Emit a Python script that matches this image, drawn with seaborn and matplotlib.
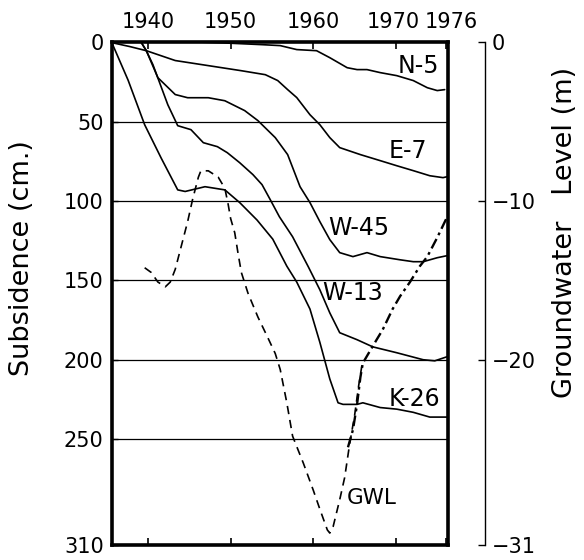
import numpy as np
import pandas as pd
import matplotlib
matplotlib.use("Agg")
import matplotlib.pyplot as plt
import matplotlib.transforms as mtransforms
import seaborn as sns

# ---- data -------------------------------------------------------------
# Subsidence records (cm) at five benchmarks
n5_year = [1935.6, 1946.3, 1949.1, 1953.8, 1956.0, 1958.0, 1960.4, 1962.0, 1964.1,
           1965.3, 1966.5, 1968.1, 1970.1, 1972.1, 1973.8, 1975.0, 1975.9]
n5_cm = [0, 0, 0.5, 1.6, 2.2, 4.7, 5.4, 9.8, 16.1, 17.3, 17.3, 19.2, 21.1, 24.2,
         28.7, 30.5, 29.9]

e7_year = [1935.6, 1937.8, 1939.8, 1943.3, 1947.3, 1951.3, 1954.2, 1955.7, 1956.9,
           1958.0, 1959.6, 1960.8, 1962.0, 1963.2, 1965.7, 1968.1, 1970.1, 1972.1,
           1974.1, 1975.7, 1976.2]
e7_cm = [0.3, 2.8, 5.4, 11.6, 14.8, 18.0, 20.5, 24.2, 29.9, 34.9, 45.7, 52.0, 60.1,
         66.4, 70.8, 74.6, 77.8, 80.9, 84.1, 85.3, 84.7]

w45_year = [1939.2, 1939.8, 1941.2, 1943.3, 1944.8, 1947.3, 1949.3, 1951.7, 1953.3,
            1955.4, 1956.9, 1958.4, 1959.6, 1960.8, 1962.0, 1963.2, 1964.8, 1966.5,
            1968.1, 1970.5, 1972.1, 1973.3, 1975.0, 1976.2]
w45_cm = [0.3, 5.4, 22.4, 33.0, 35.0, 35.0, 36.9, 43.1, 49.4, 60.1, 70.8, 91.0, 101.0,
          113.0, 124.3, 132.5, 135.0, 132.5, 135.0, 137.0, 138.2, 138.2, 135.7, 134.4]

w13_year = [1939.2, 1939.8, 1940.6, 1942.4, 1943.6, 1945.2, 1946.7, 1948.4, 1949.6,
            1951.1, 1952.7, 1953.8, 1954.8, 1955.9, 1957.5, 1959.4, 1960.8, 1962.0,
            1963.2, 1965.3, 1967.2, 1970.1, 1973.3, 1974.7, 1976.2]
w13_cm = [0.3, 5.4, 14.2, 39.4, 52.6, 55.1, 63.3, 65.8, 69.6, 75.9, 83.4, 89.7, 99.2,
          109.9, 122.5, 141.4, 155.9, 170.4, 182.9, 187.3, 191.8, 195.5, 199.9, 200.6,
          198.0]

k26_year = [1935.6, 1937.6, 1939.6, 1941.6, 1943.6, 1944.5, 1946.9, 1949.3, 1951.1,
            1953.2, 1955.1, 1956.8, 1958.0, 1959.6, 1960.8, 1962.0, 1963.0, 1963.6,
            1965.3, 1966.0, 1968.1, 1970.1, 1972.1, 1974.1, 1976.2]
k26_cm = [0, 24, 52, 73, 93, 94, 91, 93, 101, 112, 124, 141, 151, 168, 189, 212, 227,
          228, 228, 227, 230, 231, 233, 236, 236]

# Groundwater level (m)
gwl_year = [1939.6, 1940.4, 1941.2, 1942.1, 1942.7, 1943.3, 1944.0, 1944.8, 1945.4,
            1946.1, 1946.4, 1947.3, 1948.5, 1949.3, 1949.7, 1950.0, 1950.5, 1950.9,
            1951.3, 1952.1, 1953.3, 1954.5, 1955.4, 1956.0, 1956.8, 1957.5, 1958.8,
            1960.0, 1960.8, 1961.7, 1962.0, 1962.4, 1963.2, 1963.8, 1964.4, 1965.0,
            1965.5, 1965.9]
gwl_m = [-14.2, -14.5, -15.1, -15.4, -15.1, -14.3, -12.9, -11.3, -9.9, -8.5, -8.1,
         -8.1, -8.5, -9.2, -10.2, -11.1, -12.0, -13.3, -14.5, -15.8, -17.3, -18.6,
         -19.6, -20.6, -22.7, -24.8, -26.5, -28.2, -29.4, -30.7, -30.9, -30.5, -28.8,
         -27.4, -25.3, -23.5, -21.6, -20.3]

gwl2_year = [1964.2, 1964.8, 1965.3, 1965.7, 1966.0, 1966.9, 1967.7, 1968.4, 1969.6,
             1970.5, 1971.7, 1972.9, 1973.8, 1975.0, 1976.2]
gwl2_m = [-25.5, -24.4, -22.8, -21.1, -20.2, -19.4, -18.7, -18.1, -16.8, -16.0, -15.1,
          -14.1, -13.5, -12.3, -11.0]

year_ticks = [1940, 1950, 1960, 1970, 1976]
cm_ticks = [0, 50, 100, 150, 200, 250]
cm_bottom = 316.5
cm_labels = ["0", "50", "100", "150", "200", "250", "310"]
m_ticks = [0, -10, -20]
m_labels = ["0", "\u221210", "\u221220", "\u221231"]

# ---- style ------------------------------------------------------------
sns.set_theme(style="white")
plt.rcParams["font.family"] = ["DejaVu Sans"]
plt.rcParams["axes.unicode_minus"] = True

fig = plt.figure(figsize=(5.84, 5.6), dpi=100)
ax = fig.add_axes([0.1918, 0.0268, 0.5753, 0.898])

series = [
    ("N-5", n5_year, n5_cm),
    ("E-7", e7_year, e7_cm),
    ("W-45", w45_year, w45_cm),
    ("W-13", w13_year, w13_cm),
    ("K-26", k26_year, k26_cm),
]
for name, yrs, vals in series:
    df = pd.DataFrame({"year": yrs, "cm": vals})
    sns.lineplot(data=df, x="year", y="cm", ax=ax, color="black", lw=1.2,
                 sort=False, estimator=None, zorder=3)

ax.set_xlim(1935.65, 1976.3)
ax.set_ylim(cm_bottom, 0)
ax.set_xlabel("")
ax.set_ylabel("")

ax.set_xticks(year_ticks)
ax.set_xticklabels([str(y) for y in year_ticks])
ax.set_yticks(cm_ticks + [cm_bottom])
ax.set_yticklabels(cm_labels)
ax.tick_params(axis="x", which="both", top=True, bottom=True, labeltop=True,
               labelbottom=False, direction="in", length=5, width=1.2,
               labelsize=15, pad=7, colors="black")
ax.tick_params(axis="y", left=True, right=False, direction="in", length=4,
               width=1.0, labelsize=15, pad=6, colors="black")

# nudge the last two year labels apart
shift_l = mtransforms.ScaledTranslation(-3 / 100, 0, fig.dpi_scale_trans)
shift_r = mtransforms.ScaledTranslation(6 / 100, 0, fig.dpi_scale_trans)
top_labels = [t.label2 for t in ax.xaxis.get_major_ticks()]
top_labels[3].set_transform(top_labels[3].get_transform() + shift_l)
top_labels[4].set_transform(top_labels[4].get_transform() + shift_r)

ax.grid(False)
for yv in cm_ticks[1:]:
    ax.axhline(yv, color="black", lw=0.9, zorder=1)

for sp in ax.spines.values():
    sp.set_visible(True)
    sp.set_color("black")
    sp.set_linewidth(2.6)
    sp.set_zorder(5)

# curve labels
label_kw = dict(fontsize=17, color="black", ha="center", va="center", zorder=6)
ax.text(1972.7, 14.8, "N-5", **label_kw)
ax.text(1971.5, 68.3, "E-7", **label_kw)
ax.text(1965.5, 116.8, "W-45", **label_kw)
ax.text(1964.8, 157.7, "W-13", **label_kw)
ax.text(1972.3, 224.5, "K-26", **label_kw)
ax.text(1967.1, 286.8, "GWL", fontsize=15.5, color="black", ha="center",
        va="center", zorder=6)

# groundwater level on its own scale
ax2 = ax.twinx()
ax2.set_ylim(-cm_bottom / 10.0, 0)
df_g = pd.DataFrame({"year": gwl_year, "m": gwl_m})
sns.lineplot(data=df_g, x="year", y="m", ax=ax2, color="black", lw=1.2,
             sort=False, estimator=None)
ax2.lines[-1].set_dashes([5, 3.5])
df_g2 = pd.DataFrame({"year": gwl2_year, "m": gwl2_m})
sns.lineplot(data=df_g2, x="year", y="m", ax=ax2, color="black", lw=1.7,
             sort=False, estimator=None)
ax2.lines[-1].set_dashes([4.5, 1.8, 1.2, 1.8])
ax2.set_xlim(1935.65, 1976.3)
ax2.set_xlabel("")
ax2.set_ylabel("")
ax2.set_yticks(m_ticks + [-cm_bottom / 10.0])
ax2.set_yticklabels(m_labels)
ax2.tick_params(axis="y", right=True, left=False, direction="in", length=5,
                width=1.0, labelsize=15, pad=5, colors="black")
ax2.grid(False)
for side in ["top", "bottom", "left"]:
    ax2.spines[side].set_visible(False)
ax2.spines["right"].set_visible(True)
ax2.spines["right"].set_position(("outward", 26.6))
ax2.spines["right"].set_linewidth(1.0)
ax2.spines["right"].set_color("black")

# axis titles
fig.text(0.038, 0.539, "Subsidence (cm.)", rotation=90, ha="center", va="center",
         fontsize=19.5, color="black")
fig.text(0.968, 0.585, "Groundwater   Level (m)", rotation=90, ha="center",
         va="center", fontsize=19.5, color="black")

fig.savefig("out.png", dpi=100)
